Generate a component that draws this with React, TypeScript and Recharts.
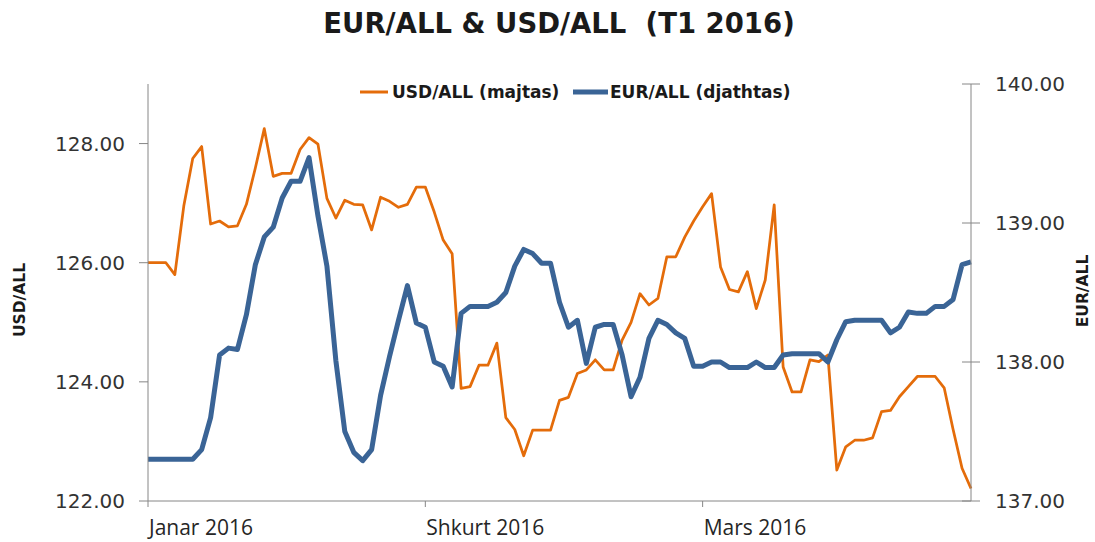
import React from 'react';
import { LineChart, Line, XAxis, YAxis } from 'recharts';

// daily readings, 1 Jan - 2 Apr 2016 (T1)
const usdAll = [
  126.0, 126.0, 126.0, 125.8, 126.95, 127.75, 127.95, 126.65, 126.7, 126.6,
  126.62, 126.98, 127.59, 128.25, 127.45, 127.5, 127.5, 127.9, 128.1, 127.99,
  127.08, 126.75, 127.05, 126.98, 126.97, 126.55, 127.1, 127.03, 126.93, 126.98,
  127.27, 127.27, 126.85, 126.38, 126.15, 123.89, 123.92, 124.28, 124.28, 124.65,
  123.4, 123.2, 122.76, 123.19, 123.19, 123.19, 123.69, 123.74, 124.14, 124.2,
  124.37, 124.2, 124.2, 124.7, 125.0, 125.48, 125.29, 125.4, 126.1, 126.1,
  126.43, 126.7, 126.94, 127.16, 125.93, 125.55, 125.51, 125.85, 125.23, 125.71,
  126.97, 124.25, 123.83, 123.83, 124.37, 124.34, 124.45, 122.52, 122.91, 123.02,
  123.02, 123.06, 123.5, 123.52, 123.75, 123.92, 124.09, 124.09, 124.09, 123.9,
  123.2, 122.55, 122.21,
];

const eurAll = [
  137.3, 137.3, 137.3, 137.3, 137.3, 137.3, 137.37, 137.6, 138.05, 138.1,
  138.09, 138.34, 138.7, 138.9, 138.97, 139.18, 139.3, 139.3, 139.47, 139.05,
  138.69, 138.01, 137.5, 137.35, 137.29, 137.37, 137.76, 138.04, 138.3, 138.55,
  138.28, 138.25, 138.0, 137.97, 137.82, 138.35, 138.4, 138.4, 138.4, 138.43,
  138.5, 138.69, 138.81, 138.78, 138.71, 138.71, 138.43, 138.25, 138.3, 137.99,
  138.25, 138.27, 138.27, 138.05, 137.75, 137.89, 138.17, 138.3, 138.27, 138.21,
  138.17, 137.97, 137.97, 138.0, 138.0, 137.96, 137.96, 137.96, 138.0, 137.96,
  137.96, 138.05, 138.06, 138.06, 138.06, 138.06, 138.0, 138.16, 138.29, 138.3,
  138.3, 138.3, 138.3, 138.21, 138.25, 138.36, 138.35, 138.35, 138.4, 138.4,
  138.45, 138.7, 138.72,
];

const monthLabels = ['Janar 2016', 'Shkurt 2016', 'Mars 2016'];
const monthStarts = [0, 31, 62];
const usdTicks = [122, 124, 126, 128];
const eurTicks = [137, 138, 139, 140];

const W = 1095;
const H = 542;
const LEFT_W = 148;
const RIGHT_W = 124;
const TOP = 84;
const X_H = 41;

const ORANGE = '#E46C0A';
const BLUE = '#3A6496';
const AXIS = '#868686';
const TICK_FONT = '"DejaVu Sans", sans-serif';

const data = usdAll.map((u, i) => ({ i, usd: u, eur: eurAll[i] }));

const MonthTick = (props: any) => {
  const { x, y, payload } = props;
  const idx = monthStarts.indexOf(payload.value);
  return (
    <text x={x + 1} y={y + 26} textAnchor="start" fill="#262626"
      fontFamily='"Open Sans", sans-serif' fontSize={21}>
      {monthLabels[idx]}
    </text>
  );
};

const RightTick = (props: any) => {
  const { y, payload } = props;
  const ax = W - RIGHT_W;
  return (
    <g>
      <line x1={ax - 9} x2={ax + 9} y1={y} y2={y} stroke={AXIS} strokeWidth={1} />
      <text x={ax + 24} y={y} dy="0.36em" textAnchor="start" fill="#333"
        fontFamily={TICK_FONT} fontSize={20}>
        {payload.value.toFixed(2)}
      </text>
    </g>
  );
};

export default function App() {
  return (
    <div style={{ position: 'absolute', left: 0, top: 0, width: W, height: H, background: '#fff' }}>
      <LineChart width={W} height={H} data={data}
        margin={{ top: TOP, right: 0, bottom: 0, left: 0 }}>
        <XAxis
          dataKey="i"
          type="number"
          domain={[0, usdAll.length - 1]}
          ticks={monthStarts}
          tick={<MonthTick />}
          tickSize={6}
          height={X_H}
          axisLine={{ stroke: AXIS }}
          tickLine={{ stroke: AXIS }}
          interval={0}
        />
        <YAxis
          yAxisId="left"
          domain={[122, 129]}
          ticks={usdTicks}
          width={LEFT_W}
          tickSize={9}
          tickMargin={14}
          axisLine={{ stroke: AXIS }}
          tickLine={{ stroke: AXIS }}
          tick={{ fill: '#333', fontSize: 20, fontFamily: TICK_FONT }}
          tickFormatter={(v: number) => v.toFixed(2)}
          allowDataOverflow
        />
        <YAxis
          yAxisId="right"
          orientation="right"
          domain={[137, 140]}
          ticks={eurTicks}
          width={RIGHT_W}
          tickLine={false}
          axisLine={{ stroke: AXIS }}
          tick={<RightTick />}
          allowDataOverflow
        />
        <Line yAxisId="left" type="linear" dataKey="usd" stroke={ORANGE} strokeWidth={2.75}
          dot={false} isAnimationActive={false} strokeLinejoin="round" />
        <Line yAxisId="right" type="linear" dataKey="eur" stroke={BLUE} strokeWidth={5}
          dot={false} isAnimationActive={false} strokeLinejoin="round" />
      </LineChart>

      <svg width={W} height={H} style={{ position: 'absolute', left: 0, top: 0, pointerEvents: 'none' }}>
        <text x={559} y={33} textAnchor="middle" fontFamily='"DejaVu Sans", sans-serif'
          fontWeight="bold" fontSize={27.5} fill="#1a1a1a">
          EUR/ALL &amp; USD/ALL{'\u00a0\u00a0'}(T1 2016)
        </text>

        <line x1={360} x2={388} y1={92} y2={92} stroke={ORANGE} strokeWidth={3} />
        <text x={392} y={98} fontFamily='"DejaVu Sans", sans-serif' fontWeight="bold"
          fontSize={17} fill="#1a1a1a">USD/ALL (majtas)</text>
        <line x1={573} x2={608} y1={92} y2={92} stroke={BLUE} strokeWidth={5} />
        <text x={610} y={98} fontFamily='"DejaVu Sans", sans-serif' fontWeight="bold"
          fontSize={17} fill="#1a1a1a">EUR/ALL (djathtas)</text>

        <text transform="translate(20,300) rotate(-90)" textAnchor="middle" dy="0.35em"
          fontFamily='"DejaVu Sans", sans-serif' fontWeight="bold" fontSize={15.5} fill="#1a1a1a">
          USD/ALL
        </text>
        <text transform="translate(1083,291) rotate(-90)" textAnchor="middle" dy="0.35em"
          fontFamily='"DejaVu Sans", sans-serif' fontWeight="bold" fontSize={15.5} fill="#1a1a1a">
          EUR/ALL
        </text>
      </svg>
    </div>
  );
}
